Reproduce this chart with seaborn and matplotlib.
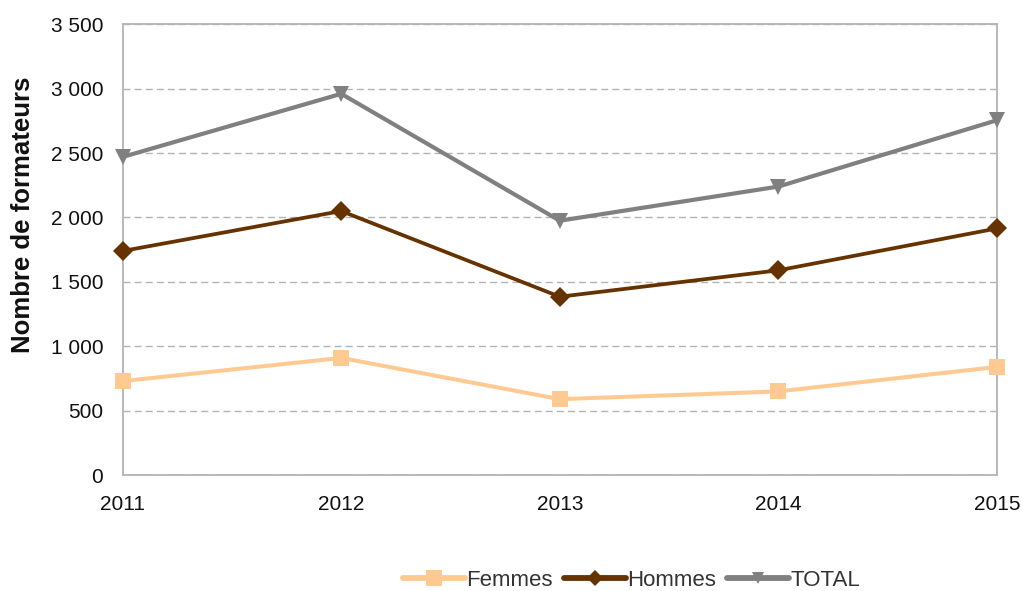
import matplotlib
matplotlib.use("Agg")
import matplotlib.pyplot as plt
import seaborn as sns
import pandas as pd
from matplotlib.ticker import FuncFormatter
from matplotlib.lines import Line2D

years = [2011, 2012, 2013, 2014, 2015]
femmes = [730, 910, 590, 650, 840]
hommes = [1740, 2050, 1385, 1590, 1915]
total = [2470, 2960, 1975, 2240, 2755]
series_names = ["Femmes", "Hommes", "TOTAL"]

df = pd.DataFrame({
    "year": years * 3,
    "value": femmes + hommes + total,
    "series": [series_names[0]] * 5 + [series_names[1]] * 5 + [series_names[2]] * 5,
})

sns.set_style("white")
plt.rcParams["font.family"] = ["Liberation Sans", "DejaVu Sans"]

fig = plt.figure(figsize=(10.22, 5.91), dpi=100)
ax = fig.add_axes([0.120, 0.196, 0.8555, 0.763])

palette = {"Femmes": "#ffc992", "Hommes": "#663300", "TOTAL": "#808080"}
markers = {"Femmes": "s", "Hommes": "D", "TOTAL": "v"}
sns.lineplot(data=df, x="year", y="value", hue="series", style="series",
             palette=palette, markers=markers, dashes=False, ax=ax,
             legend=False, markeredgewidth=0)

lw = {"Femmes": 2.9, "Hommes": 2.7, "TOTAL": 3.0}
ms = {"Femmes": 12, "Hommes": 10, "TOTAL": 11}
for line, name in zip(ax.get_lines(), series_names):
    line.set_linewidth(lw[name])
    line.set_markersize(ms[name])
    line.set_zorder(3)
    line.set_clip_on(False)

ax.set_xlim(2011, 2015)
ax.set_ylim(0, 3500)
ax.set_xticks(years)
ax.set_xticklabels([str(y) for y in years])
ax.set_yticks(range(0, 3501, 500))
ax.yaxis.set_major_formatter(FuncFormatter(lambda v, p: f"{int(v):,}".replace(",", " ")))

ax.grid(axis="y", color="#b3b3b3", linestyle=(0, (5, 3)), linewidth=1)
ax.grid(axis="x", visible=False)
for s in ax.spines.values():
    s.set_color("#b3b3b3")
    s.set_linewidth(1.3)

ax.tick_params(axis="both", which="both", length=8, width=1.3, color="#b3b3b3",
               labelsize=15, labelcolor="#111111", direction="out")
ax.tick_params(axis="x", pad=6)
ax.tick_params(axis="y", pad=6)
ax.set_xlabel("")
ax.set_ylabel("Nombre de formateurs", fontsize=18.5, fontweight="bold",
              color="#111111")
ax.yaxis.set_label_coords(-0.1, 0.577)

handles = [Line2D([0], [0], color=palette[n], lw=4.2, marker=markers[n],
                  markersize={"Femmes": 11, "Hommes": 8, "TOTAL": 9}[n],
                  markeredgewidth=0) for n in series_names]
leg = fig.legend(handles, series_names, loc="center", bbox_to_anchor=(0.618, 0.018),
                 ncol=3, frameon=False, fontsize=16, handlelength=2.8,
                 handletextpad=0.05, columnspacing=0.5)
for t in leg.get_texts():
    t.set_color("#333333")

fig.savefig("out.png", dpi=100)
